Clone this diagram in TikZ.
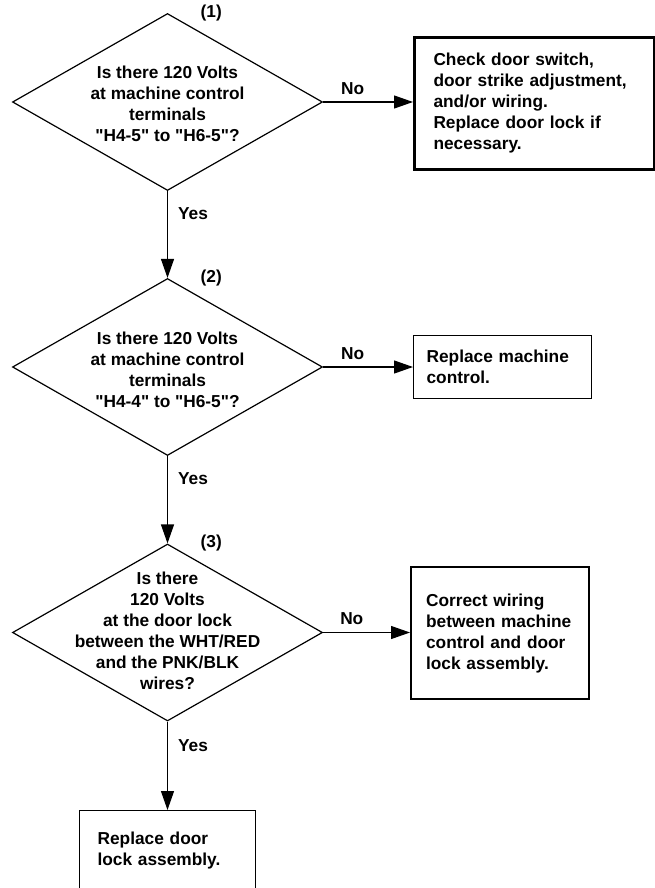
\documentclass[tikz,border=0pt]{standalone}
\usepackage{fontspec}
\setmainfont{Liberation Sans}
\usetikzlibrary{shapes.geometric,arrows.meta,positioning}
\newcommand{\chartfont}{\fontsize{17.3}{21}\selectfont\bfseries}
\tikzset{
  decision/.style={diamond, draw, line width=1.2pt, minimum width=310pt, minimum height=177pt, inner sep=0pt},
  question/.style={align=center, font=\chartfont, inner sep=0pt},
  action/.style={rectangle, draw, line width=1.2pt, anchor=north west, align=left, font=\chartfont},
  answer/.style={font=\chartfont, inner sep=0pt},
  flow/.style={line width=1.2pt, -{Triangle[length=19pt,width=13pt]}},
}
\begin{document}
\begin{tikzpicture}[x=1pt,y=-1pt]
    \useasboundingbox (0,0) rectangle (654,888);
    \coordinate (Q1) at (167.5,102);
    \coordinate (Q2) at (167.5,367);
    \coordinate (Q3) at (167.5,632.5);
    \node [decision] (q1) at (Q1) {};% Step (1)
    \node [question] (q1text) at ([yshift=-2pt]Q1) {Is there 120 Volts\\at machine control\\terminals\\\textquotedbl H4-5\textquotedbl{} to \textquotedbl H6-5\textquotedbl ?};
    \node [answer, right=33pt of q1.north] (n1) {(1)};
    \node [decision] (q2) at (Q2) {};% Step (2)
    \node [question] (q2text) at ([yshift=-3pt]Q2) {Is there 120 Volts\\at machine control\\terminals\\\textquotedbl H4-4\textquotedbl{} to \textquotedbl H6-5\textquotedbl ?};
    \node [answer, right=33pt of q2.north] (n2) {(2)};
    \node [decision] (q3) at (Q3) {};% Step (3)
    \node [question] (q3text) at ([yshift=2pt]Q3) {Is there\\120 Volts\\at the door lock\\between the WHT/RED\\and the PNK/BLK\\wires?};
    \node [answer, right=33pt of q3.north] (n3) {(3)};
    \node [action, line width=3pt, inner xsep=19pt, text width=201.5pt, minimum height=132pt] (fix1) at (413,36) {Check door switch,\\door strike adjustment,\\and/or wiring.\\Replace door lock if\\necessary.};
    \node [action, inner xsep=13pt, text width=152pt, minimum height=63pt] (fix2) at (413,335) {Replace machine\\control.};
    \node [action, line width=2.2pt, inner xsep=15pt, text width=148pt, minimum height=132pt] (fix3) at (410,566) {Correct wiring\\between machine\\control and door\\lock assembly.};
    \node [action, inner xsep=18pt, text width=140pt, minimum height=80pt] (fix4) at (79,810) {Replace door\\lock assembly.};
    \draw [flow] (q1.east) -- (q1.east -| fix1.west) node [answer, pos=.33, above=7pt] (no1) {No};
    \draw [flow] (q2.east) -- (q2.east -| fix2.west) node [answer, pos=.33, above=7pt] (no2) {No};
    \draw [flow] (q3.east) -- (q3.east -| fix3.west) node [answer, pos=.33, above=7pt] (no3) {No};
    \draw [flow] (q1.south) -- (q2.north) node [answer, pos=.26, right=10pt] (yes1) {Yes};
    \draw [flow] (q2.south) -- (q3.north) node [answer, pos=.26, right=10pt] (yes2) {Yes};
    \draw [flow] (q3.south) -- (q3.south |- fix4.north) node [answer, pos=.27, right=10pt] (yes3) {Yes};
\end{tikzpicture}
\end{document}
